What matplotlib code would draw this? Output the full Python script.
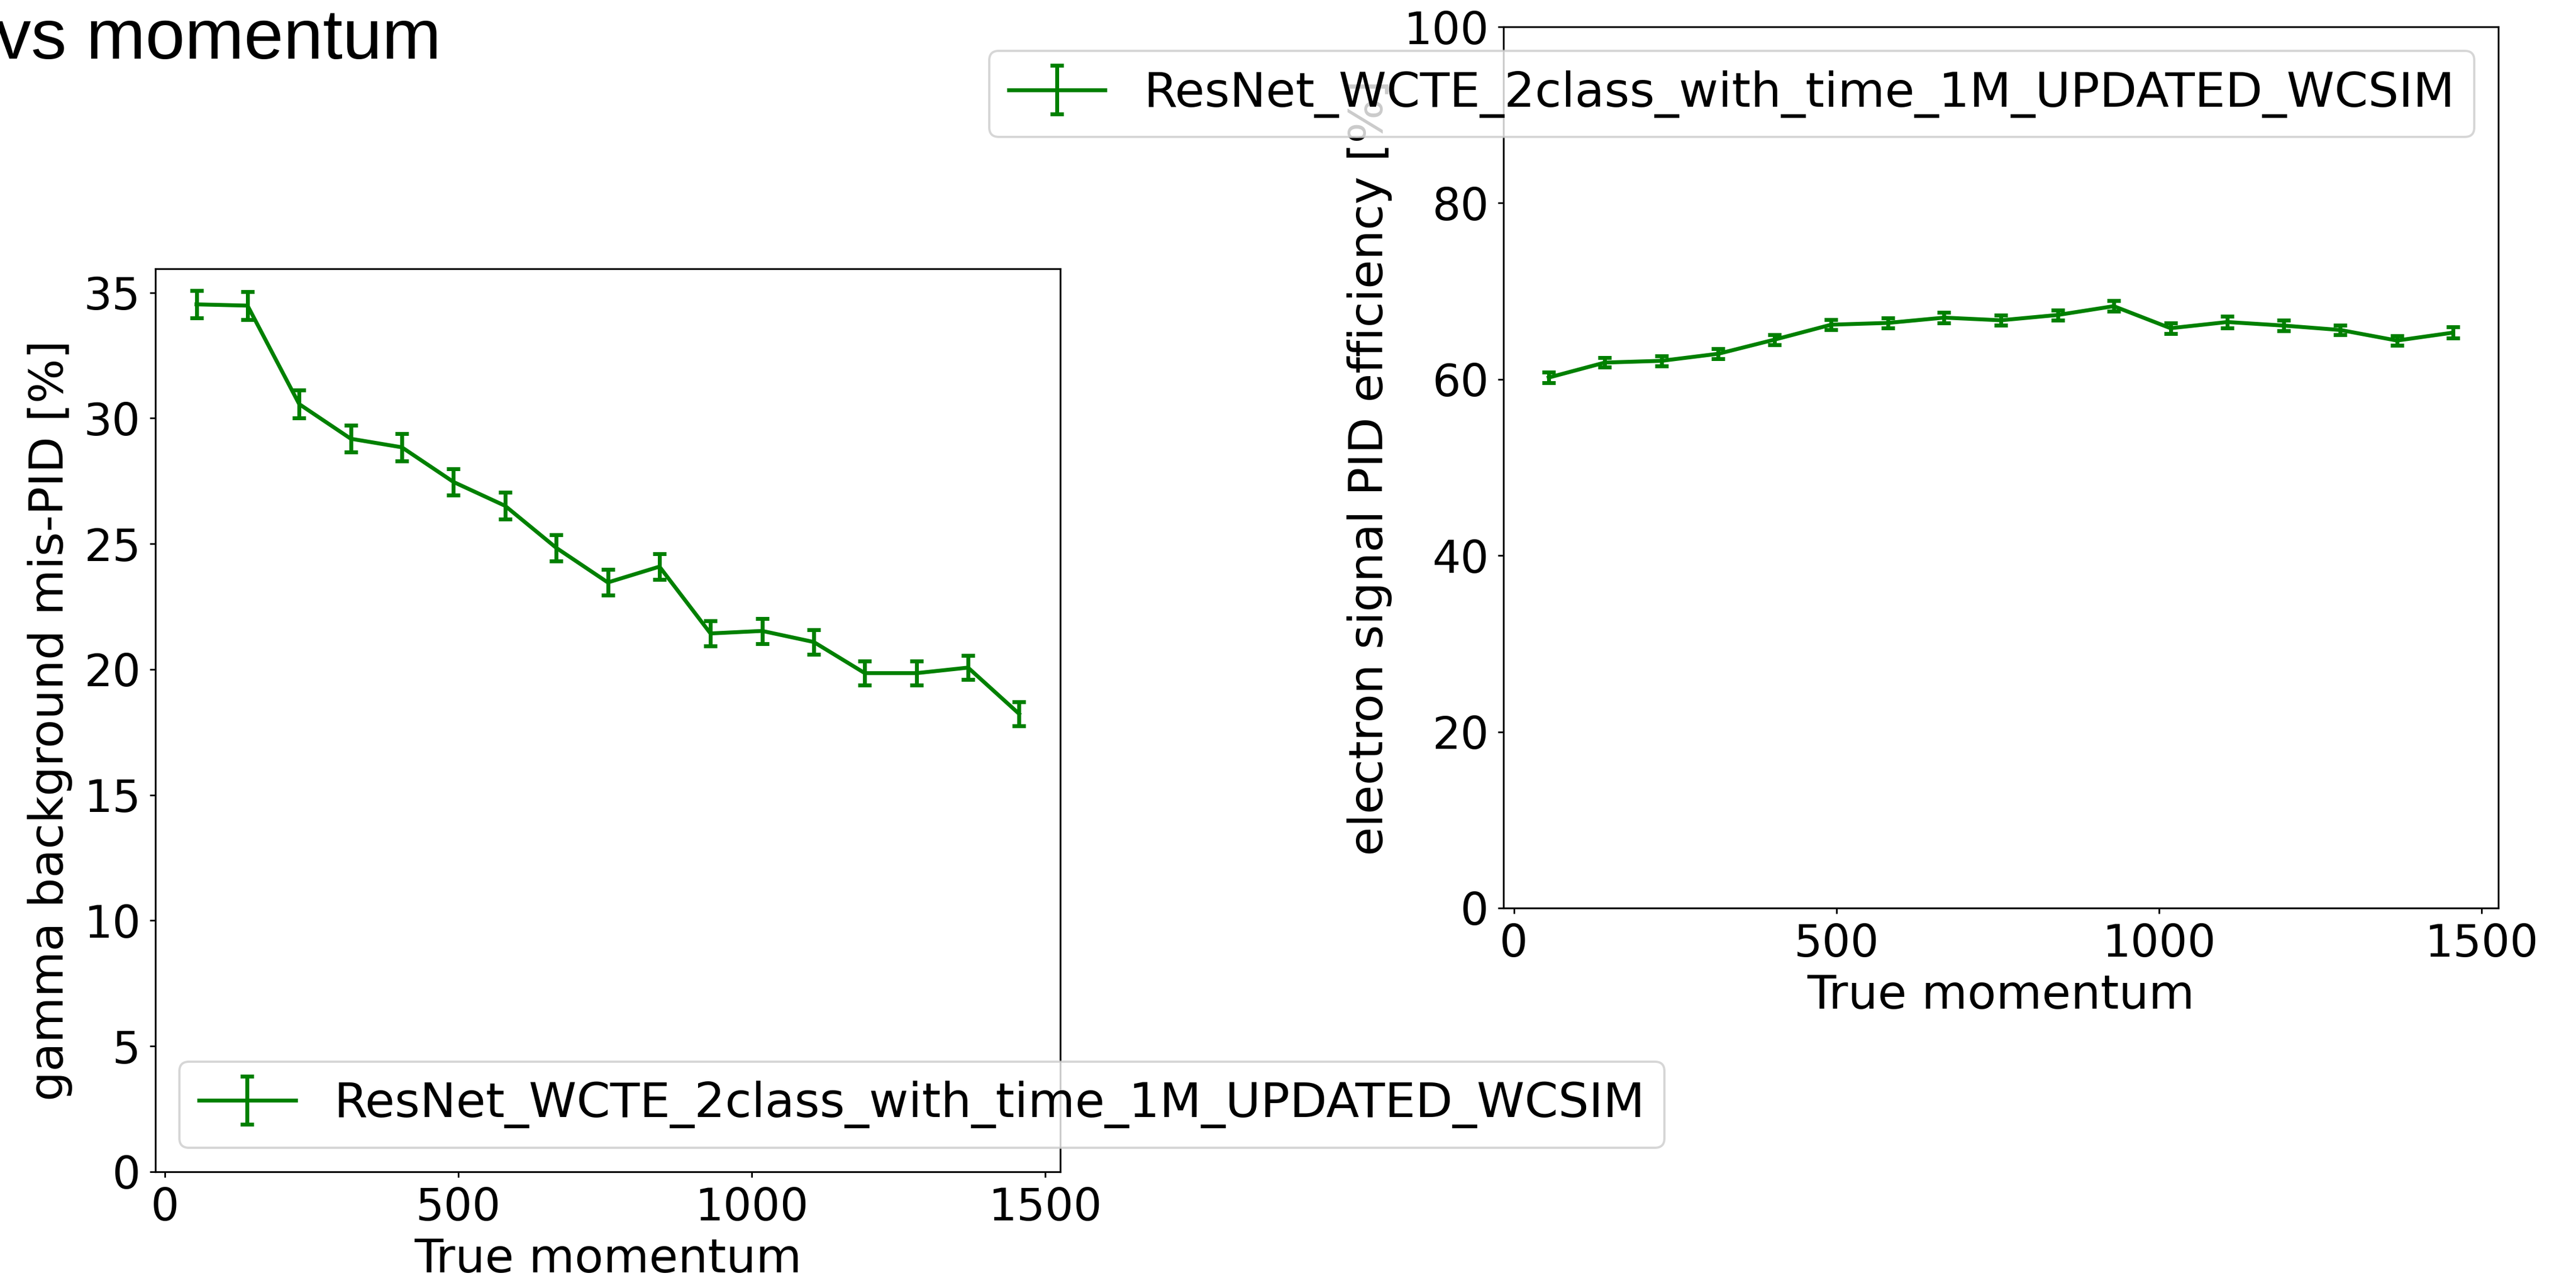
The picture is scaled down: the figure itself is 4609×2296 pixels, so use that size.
import matplotlib
matplotlib.use("Agg")
import matplotlib.pyplot as plt
from matplotlib.ticker import MultipleLocator

# ==============================
# Data
# ==============================
momentum = [54, 141, 229, 317, 404, 492, 580, 667, 755, 843, 930, 1018, 1106, 1193, 1281, 1369, 1456]

gamma_mispid = [34.53, 34.48, 30.56, 29.18, 28.84, 27.46, 26.51, 24.84, 23.46, 24.09,
                21.43, 21.53, 21.09, 19.85, 19.85, 20.07, 18.23]
gamma_err = [0.55, 0.55, 0.55, 0.54, 0.54, 0.53, 0.53, 0.52, 0.51, 0.51,
             0.50, 0.50, 0.49, 0.48, 0.48, 0.48, 0.47]

electron_eff = [60.2, 61.9, 62.1, 62.9, 64.5, 66.2, 66.4, 67.0, 66.7, 67.3,
                68.3, 65.8, 66.5, 66.1, 65.6, 64.4, 65.3]
electron_err = [0.62, 0.54, 0.56, 0.56, 0.58, 0.58, 0.58, 0.58, 0.58, 0.58,
                0.60, 0.62, 0.65, 0.62, 0.56, 0.56, 0.65]

label = "ResNet_WCTE_2class_with_time_1M_UPDATED_WCSIM"

# ==============================
# Figure
# ==============================
DPI = 288
fig = plt.figure(figsize=(4609 / DPI, 2296 / DPI), dpi=DPI)

TICK = 20
LAB = 21
LEG = 21.6


def style(ax):
    ax.tick_params(labelsize=TICK, length=2.5, width=0.75, pad=4)
    ax.xaxis.set_major_locator(MultipleLocator(500))
    for s in ax.spines.values():
        s.set_linewidth(0.8)


# left plot : gamma mis-PID
ax1 = fig.add_axes([278 / 4609, 1 - 2097 / 2296, 1619 / 4609, 1616 / 2296])
ax1.errorbar(momentum, gamma_mispid, yerr=gamma_err, color="green", lw=1.75,
             elinewidth=1.75, capthick=1.75, capsize=3.1, label=label)
ax1.set_ylim(bottom=0)
ax1.set_xlabel("True momentum", fontsize=LAB, labelpad=3)
ax1.set_ylabel("gamma background mis-PID [%]", fontsize=LAB, labelpad=5)
ax1.legend(loc="lower left", fontsize=LEG)
style(ax1)

# right plot : electron efficiency
ax2 = fig.add_axes([2690 / 4609, 1 - 1625 / 2296, 1780 / 4609, 1577 / 2296])
ax2.errorbar(momentum, electron_eff, yerr=electron_err, color="green", lw=1.75,
             elinewidth=1.75, capthick=1.75, capsize=3.1, label=label)
ax2.set_ylim(0, 100)
ax2.set_xlabel("True momentum", fontsize=LAB, labelpad=3)
ax2.set_ylabel("electron signal PID efficiency [%]", fontsize=LAB, labelpad=5)
ax2.legend(loc="upper right", fontsize=LEG)
style(ax2)

# slide title (cut at the left edge)
fig.text(789 / 4609, 1 - 105 / 2296, "vs momentum", ha="right", va="baseline",
         fontsize=31.75, family="Liberation Sans")

fig.savefig("out.png", dpi=DPI)
